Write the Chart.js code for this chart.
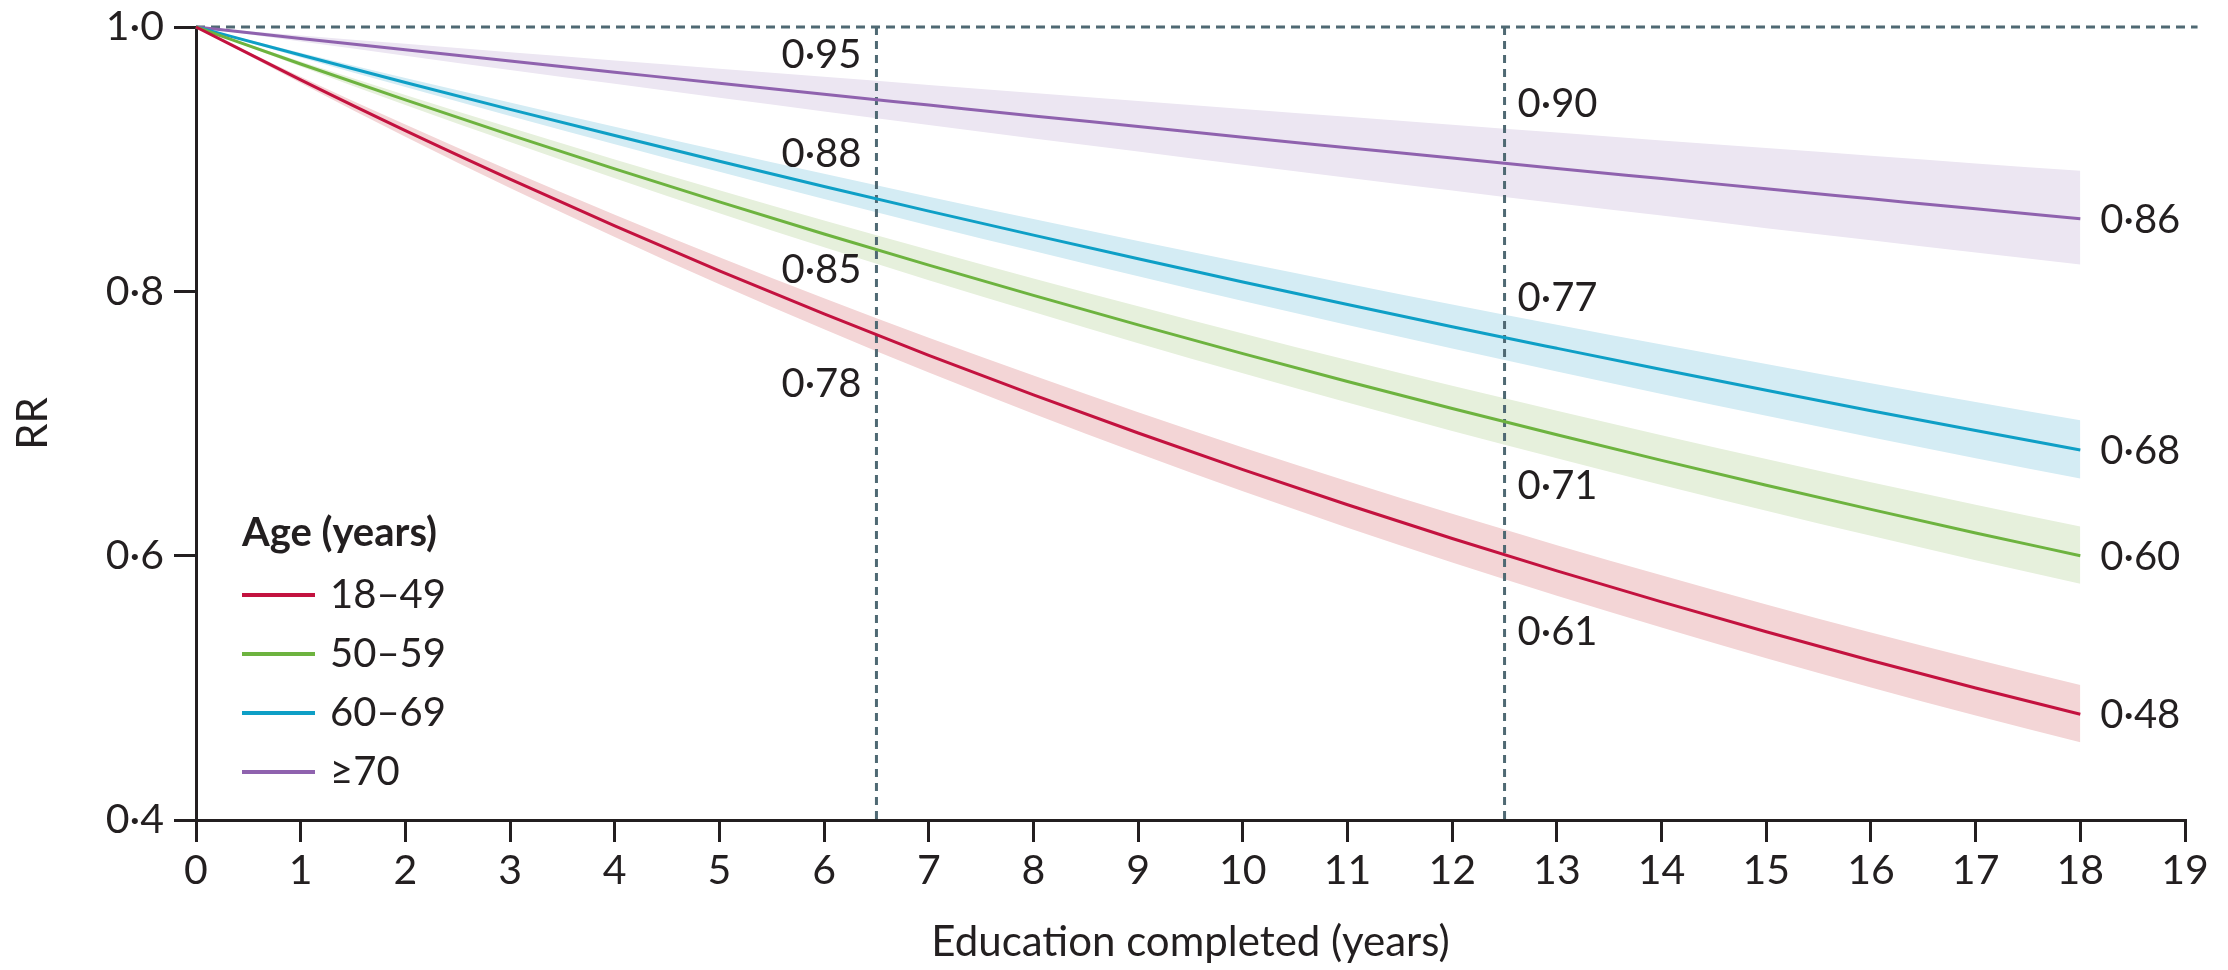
<!DOCTYPE html>
<html>
<head>
<meta charset="utf-8">
<script src="https://cdn.jsdelivr.net/npm/chart.js@4/dist/chart.umd.min.js"></script>
<style>
  html, body { margin: 0; padding: 0; background: #ffffff; }
  #wrap { width: 2228px; height: 970px; position: relative; }
</style>
</head>
<body>
<div id="wrap"><canvas id="c" width="2228" height="970"></canvas></div>
<script>
// ---- data ----
const years = [0, 1, 2, 3, 4, 5, 6, 7, 8, 9, 10, 11, 12, 13, 14, 15, 16, 17, 18];

const ageGroups = ['18–49', '50–59', '60–69', '≥70'];

const rr18to49 = [1, 0.9600, 0.9216, 0.8849, 0.8495, 0.8155, 0.7830, 0.7516, 0.7217, 0.6928, 0.6651, 0.6385, 0.6130, 0.5885, 0.5650, 0.5424, 0.5207, 0.4999, 0.4800];
const hi18to49 = [1, 0.9624, 0.9262, 0.8914, 0.8580, 0.8258, 0.7948, 0.7649, 0.7363, 0.7086, 0.6819, 0.6563, 0.6317, 0.6079, 0.5851, 0.5631, 0.5419, 0.5216, 0.5021];
const lo18to49 = [1, 0.9576, 0.9170, 0.8782, 0.8411, 0.8053, 0.7713, 0.7385, 0.7074, 0.6774, 0.6487, 0.6212, 0.5949, 0.5697, 0.5456, 0.5224, 0.5003, 0.4791, 0.4589];

const rr50to59 = [1, 0.9720, 0.9448, 0.9184, 0.8927, 0.8677, 0.8434, 0.8198, 0.7969, 0.7746, 0.7529, 0.7318, 0.7113, 0.6915, 0.6721, 0.6533, 0.6350, 0.6172, 0.6000];
const hi50to59 = [1, 0.9739, 0.9486, 0.9239, 0.8998, 0.8764, 0.8536, 0.8314, 0.8097, 0.7887, 0.7681, 0.7480, 0.7286, 0.7097, 0.6912, 0.6732, 0.6556, 0.6386, 0.6220];
const lo50to59 = [1, 0.9701, 0.9410, 0.9129, 0.8856, 0.8591, 0.8333, 0.8084, 0.7843, 0.7608, 0.7380, 0.7159, 0.6944, 0.6738, 0.6535, 0.6340, 0.6150, 0.5966, 0.5788];

const rr60to69 = [1, 0.9788, 0.9580, 0.9377, 0.9179, 0.8984, 0.8793, 0.8607, 0.8425, 0.8246, 0.8071, 0.7900, 0.7732, 0.7569, 0.7408, 0.7251, 0.7097, 0.6947, 0.6800];
const hi60to69 = [1, 0.9806, 0.9614, 0.9428, 0.9245, 0.9065, 0.8889, 0.8716, 0.8547, 0.8380, 0.8218, 0.8058, 0.7901, 0.7748, 0.7597, 0.7450, 0.7304, 0.7163, 0.7024];
const lo60to69 = [1, 0.9770, 0.9546, 0.9327, 0.9113, 0.8904, 0.8698, 0.8499, 0.8305, 0.8114, 0.7927, 0.7745, 0.7567, 0.7394, 0.7224, 0.7058, 0.6896, 0.6737, 0.6583];

const rr70plus = [1, 0.9913, 0.9828, 0.9742, 0.9658, 0.9574, 0.9491, 0.9409, 0.9327, 0.9247, 0.9166, 0.9087, 0.9008, 0.8930, 0.8853, 0.8776, 0.8700, 0.8624, 0.8550];
const hi70plus = [1, 0.9936, 0.9873, 0.9809, 0.9747, 0.9685, 0.9623, 0.9561, 0.9500, 0.9440, 0.9380, 0.9320, 0.9260, 0.9201, 0.9142, 0.9084, 0.9026, 0.8968, 0.8912];
const lo70plus = [1, 0.9890, 0.9783, 0.9675, 0.9570, 0.9464, 0.9361, 0.9259, 0.9157, 0.9058, 0.8957, 0.8860, 0.8763, 0.8666, 0.8573, 0.8478, 0.8386, 0.8293, 0.8203];

const xTicks = [0, 1, 2, 3, 4, 5, 6, 7, 8, 9, 10, 11, 12, 13, 14, 15, 16, 17, 18, 19];
const yTicks = [0.4, 0.6, 0.8, 1.0];

const refYears = [6.5, 12.5];
const refRR = 1.0;

// labels printed at the reference lines (value text + the RR level they sit at)
const labelsAt6 = ['0·95', '0·88', '0·85', '0·78'];
const levelsAt6 = [0.979, 0.904, 0.816, 0.730];
const labelsAt12 = ['0·90', '0·77', '0·71', '0·61'];
const levelsAt12 = [0.942, 0.795, 0.653, 0.542];
const endLabels = ['0·48', '0·60', '0·68', '0·86'];

// ---- styles ----
const FONT = 'Lato, "Open Sans", "DejaVu Sans", sans-serif';
const TEXT = '#231f20';
const lineColors = ['#c3123f', '#6db33f', '#0e9fc6', '#8f62ae'];
const bandColors = ['#f3d5d6', '#e6f0dc', '#d4ecf4', '#ece6f2'];
const refColor = '#4f6973';

const series = [
  { rr: rr18to49, hi: hi18to49, lo: lo18to49 },
  { rr: rr50to59, hi: hi50to59, lo: lo50to59 },
  { rr: rr60to69, hi: hi60to69, lo: lo60to69 },
  { rr: rr70plus, hi: hi70plus, lo: lo70plus }
];

const pts = arr => years.map((x, i) => ({ x: x, y: arr[i] }));

const datasets = [];
series.forEach((s, i) => {
  datasets.push({
    label: 'band-hi-' + i, data: pts(s.hi), borderWidth: 0, pointRadius: 0,
    backgroundColor: bandColors[i], fill: '+1', order: 20, isBand: true,
    cubicInterpolationMode: 'monotone'
  });
  datasets.push({
    label: 'band-lo-' + i, data: pts(s.lo), borderWidth: 0, pointRadius: 0,
    backgroundColor: bandColors[i], fill: false, order: 20, isBand: true,
    cubicInterpolationMode: 'monotone'
  });
});
// reference lines
refYears.forEach(rx => {
  datasets.push({
    label: 'ref-' + rx, data: [{ x: rx, y: refRR }, { x: rx, y: 0.4 }],
    borderColor: refColor, borderWidth: 3, borderDash: [8, 6], pointRadius: 0,
    fill: false, order: 5, clip: false, isRef: true
  });
});
datasets.push({
  label: 'ref-h', data: [{ x: 0, y: refRR }, { x: 19.12, y: refRR }],
  borderColor: refColor, borderWidth: 3, borderDash: [9, 6], pointRadius: 0,
  fill: false, order: 5, clip: false, isRef: true
});
series.forEach((s, i) => {
  datasets.push({
    label: ageGroups[i], data: pts(s.rr), borderColor: lineColors[i], borderWidth: 3,
    pointRadius: 0, fill: false, order: 1, clip: false, isSeries: true, seriesIndex: i,
    cubicInterpolationMode: 'monotone'
  });
});

const annot = {
  id: 'annot',
  afterDatasetsDraw(chart) {
    const ctx = chart.ctx;
    const xs = chart.scales.x, ys = chart.scales.y;
    ctx.save();
    ctx.fillStyle = TEXT;
    ctx.font = '40px ' + FONT;
    ctx.textBaseline = 'middle';
    // labels left of x = 6.5
    ctx.textAlign = 'right';
    labelsAt6.forEach((t, i) => ctx.fillText(t, xs.getPixelForValue(refYears[0]) - 15, ys.getPixelForValue(levelsAt6[i])));
    // labels right of x = 12.5
    ctx.textAlign = 'left';
    labelsAt12.forEach((t, i) => ctx.fillText(t, xs.getPixelForValue(refYears[1]) + 13, ys.getPixelForValue(levelsAt12[i])));
    // end labels
    series.forEach((s, i) => {
      const last = s.rr.length - 1;
      ctx.fillText(endLabels[i], xs.getPixelForValue(years[last]) + 20, ys.getPixelForValue(s.rr[last]) + 1);
    });

    // legend
    const lx = 242, ly = 533, gap = 59;
    ctx.font = 'bold 40px ' + FONT;
    ctx.fillText('Age (years)', lx, ly);
    ctx.font = '40px ' + FONT;
    chart.data.datasets.filter(d => d.isSeries).forEach((d, i) => {
      const y = ly + 62 + gap * i;
      ctx.strokeStyle = d.borderColor;
      ctx.lineWidth = 4;
      ctx.setLineDash([]);
      ctx.beginPath();
      ctx.moveTo(lx, y);
      ctx.lineTo(lx + 73, y);
      ctx.stroke();
      ctx.fillText(d.label, lx + 88, y);
    });
    ctx.restore();
  }
};

new Chart(document.getElementById('c'), {
  type: 'line',
  data: { datasets: datasets },
  options: {
    responsive: false,
    animation: false,
    events: [],
    layout: { padding: { top: 27, right: 43, bottom: 0, left: 0 } },
    plugins: {
      legend: { display: false },
      tooltip: { enabled: false },
      filler: { drawTime: 'beforeDatasetsDraw' }
    },
    scales: {
      x: {
        type: 'linear', min: xTicks[0], max: xTicks[xTicks.length - 1],
        afterFit(s) { s.height = 150; s.paddingLeft = 0; s.paddingRight = 0; },
        afterBuildTicks(s) { s.ticks = xTicks.map(v => ({ value: v })); },
        ticks: { stepSize: 1, color: TEXT, font: { family: FONT, size: 41 }, padding: 4, maxRotation: 0, autoSkip: false,
          callback: v => String(v) },
        grid: { drawOnChartArea: false, drawTicks: true, tickLength: 22, tickWidth: 3, lineWidth: 3, tickColor: TEXT, color: TEXT },
        border: { display: true, color: TEXT, width: 3 },
        title: { display: true, text: 'Education completed (years)', color: TEXT, font: { family: FONT, size: 42 }, padding: { top: 0, bottom: 2 } }
      },
      y: {
        type: 'linear', min: yTicks[0], max: yTicks[yTicks.length - 1],
        afterFit(s) { s.width = 196; s.paddingTop = 0; s.paddingBottom = 0; },
        afterBuildTicks(s) { s.ticks = yTicks.map(v => ({ value: v })); },
        ticks: { color: TEXT, font: { family: FONT, size: 41 }, padding: 10,
          callback: v => Number(v).toFixed(1).replace('.', '·') },
        grid: { drawOnChartArea: false, drawTicks: true, tickLength: 22, tickWidth: 3, lineWidth: 3, tickColor: TEXT, color: TEXT },
        border: { display: true, color: TEXT, width: 3 },
        title: { display: true, text: 'RR', color: TEXT, font: { family: FONT, size: 42 }, padding: { top: 8, bottom: 0 } }
      }
    }
  },
  plugins: [annot]
});
</script>
</body>
</html>
